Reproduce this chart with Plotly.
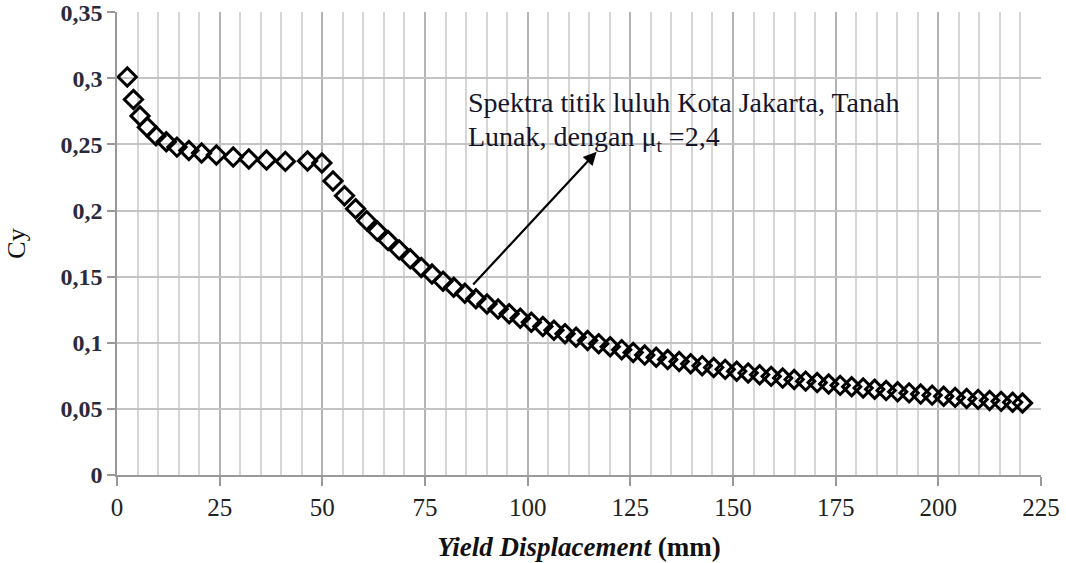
import plotly.graph_objects as go

# Yield displacement (mm)
disp = [2.5, 4.0, 5.6, 7.4, 9.5, 12.0, 14.6, 17.5, 20.6, 24.2, 28.3, 32.1, 36.4, 41.0, 46.4, 49.9,
        52.6, 55.4, 58.1, 60.8, 63.4, 66.0, 68.7, 71.4, 74.1, 76.7, 79.4, 82.0, 84.7, 87.4, 90.1,
        92.8, 95.5, 98.2, 100.9, 103.7, 106.4, 109.1, 111.8, 114.6, 117.3, 120.1, 122.9, 125.7,
        128.5, 131.3, 134.1, 136.9, 139.7, 142.5, 145.3, 148.1, 150.9, 153.7, 156.5, 159.3, 162.1,
        164.9, 167.7, 170.5, 173.3, 176.1, 178.9, 181.7, 184.5, 187.3, 190.1, 192.9, 195.7, 198.5,
        201.3, 204.1, 206.9, 209.7, 212.5, 215.3, 218.1, 220.5]
# Yield coefficient Cy
cy = [0.301, 0.284, 0.2716, 0.263, 0.2565, 0.252, 0.248, 0.2455, 0.2435, 0.242, 0.2405, 0.239,
      0.2382, 0.2372, 0.2375, 0.236,
      0.2224, 0.2112, 0.2014, 0.1924, 0.1845, 0.1773, 0.1703, 0.1635, 0.157, 0.152, 0.1465,
      0.1420, 0.1375, 0.1333, 0.1293, 0.1255, 0.1220, 0.1186, 0.1155, 0.1123, 0.1095, 0.1068,
      0.1042, 0.1017, 0.0993, 0.0970, 0.0948, 0.0927, 0.0907, 0.0890, 0.0873, 0.0858, 0.0842,
      0.0827, 0.0813, 0.0799, 0.0785, 0.0772, 0.0758, 0.0746, 0.0733, 0.0722, 0.0710, 0.0699,
      0.0688, 0.0678, 0.0668, 0.0658, 0.0648, 0.0639, 0.0629, 0.0621, 0.0612, 0.0604, 0.0595,
      0.0587, 0.0579, 0.0572, 0.0564, 0.0557, 0.0550, 0.0544]

x_ticks = [0, 25, 50, 75, 100, 125, 150, 175, 200, 225]
y_ticks = [0, 0.05, 0.1, 0.15, 0.2, 0.25, 0.3, 0.35]
y_labels = ["0", "0,05", "0,1", "0,15", "0,2", "0,25", "0,3", "0,35"]

SERIF = "Liberation Serif"

fig = go.Figure()
fig.add_trace(go.Scatter(
    x=disp, y=cy, mode="markers",
    marker=dict(symbol="diamond-open", size=14, color="black", line=dict(width=3, color="black")),
    showlegend=False, hoverinfo="x+y"))

fig.update_layout(
    width=1066, height=563,
    margin=dict(l=117, r=25, t=12, b=88),
    paper_bgcolor="white", plot_bgcolor="white",
    font=dict(family=SERIF, color="#111"),
    xaxis=dict(
        range=[0, 225.01], tickvals=x_ticks, ticktext=[str(v) for v in x_ticks],
        showgrid=True, gridcolor="#b4b4b4", gridwidth=1.5,
        minor=dict(dtick=5, showgrid=True, gridcolor="#d6d6d6", gridwidth=1.5),
        ticks="outside", ticklen=9, tickwidth=1.5, tickcolor="#999",
        showline=True, linecolor="#999", linewidth=1.5, mirror=False,
        zeroline=False, tickfont=dict(family=SERIF, size=25, color="#222"),
        ticklabeloverflow="allow", automargin=False,
        title=dict(text="<b><i>Yield Displacement</i> (mm)</b>",
                   font=dict(family=SERIF, size=27, color="#111"), standoff=17),
    ),
    yaxis=dict(
        range=[0, 0.3502], tickvals=y_ticks, ticktext=["<b>%s</b>" % t for t in y_labels],
        showgrid=True, gridcolor="#c4c4c4", gridwidth=1.5,
        ticks="outside", ticklen=8, tickwidth=1.5, tickcolor="#999",
        showline=True, linecolor="#999", linewidth=1.5,
        zeroline=False, tickfont=dict(family=SERIF, size=24, color="#2a2a3a"),
        ticklabeloverflow="allow", automargin=False,
        title=dict(text="Cy", font=dict(family=SERIF, size=26, color="#111"), standoff=27),
    ),
)

# arrow
fig.add_annotation(x=116.8, y=0.2445, ax=86.4, ay=0.1429, xref="x", yref="y", axref="x", ayref="y",
                   text="", showarrow=True, arrowhead=2, arrowsize=1.2, arrowwidth=2.2, arrowcolor="black")
# label text
fig.add_annotation(x=85.0, y=0.2815, xref="x", yref="y", xanchor="left", yanchor="middle",
                   text="Spektra titik luluh Kota Jakarta, Tanah", showarrow=False,
                   font=dict(family=SERIF, size=28, color="#15152a"))
fig.add_annotation(x=85.0, y=0.2545, xref="x", yref="y", xanchor="left", yanchor="middle",
                   text="Lunak, dengan μ<sub>t</sub> =2,4", showarrow=False,
                   font=dict(family=SERIF, size=28, color="#15152a"))

fig.write_html("out.html", config={"displayModeBar": False},
               post_script="document.body.style.margin='0';")
